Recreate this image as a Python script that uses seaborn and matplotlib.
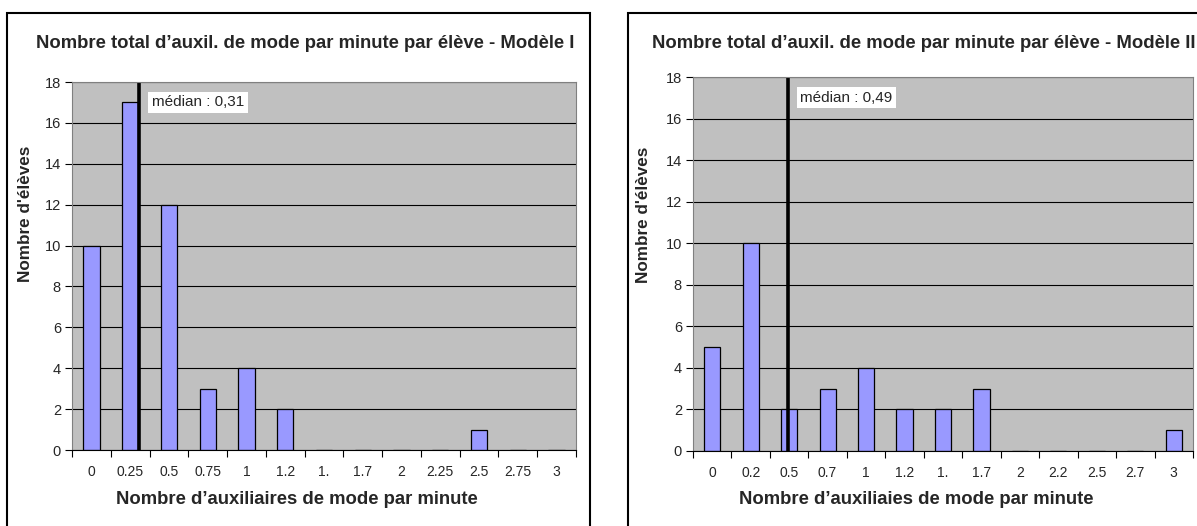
import numpy as np
import pandas as pd
import seaborn as sns
import matplotlib.pyplot as plt
from matplotlib.patches import Rectangle

# Données
cats_1 = ['0', '0.25', '0.5', '0.75', '1', '1.2', '1.', '1.7', '2', '2.25', '2.5', '2.75', '3']
eleves_1 = [10, 17, 12, 3, 4, 2, 0, 0, 0, 0, 1, 0, 0]
mediane_1 = 0.31

cats_2 = ['0', '0.2', '0.5', '0.7', '1', '1.2', '1.', '1.7', '2', '2.2', '2.5', '2.7', '3']
eleves_2 = [5, 10, 2, 3, 4, 2, 2, 3, 0, 0, 0, 0, 1]
mediane_2 = 0.49

# valeurs numériques des classes (pour placer la médiane)
classes = [0, 0.25, 0.5, 0.75, 1, 1.25, 1.5, 1.75, 2, 2.25, 2.5, 2.75, 3]

titre_1 = 'Nombre total d’auxil. de mode par minute par élève - Modèle I'
titre_2 = 'Nombre total d’auxil. de mode par minute par élève - Modèle II'
xlabel_1 = 'Nombre d’auxiliaires de mode par minute'
xlabel_2 = 'Nombre d’auxiliaies de mode par minute'
ylabel = "Nombre d'élèves"

sns.set_style('white')
plt.rcParams['font.family'] = ['Liberation Sans', 'DejaVu Sans']

fig = plt.figure(figsize=(11.97, 5.26), dpi=100)

# cadres des deux graphiques
fig.patches.append(Rectangle((7 / 1197, -0.05), 583 / 1197, 1.05 - 13 / 526, transform=fig.transFigure,
                             fill=False, edgecolor='black', linewidth=1.5))
fig.patches.append(Rectangle((628 / 1197, -0.05), 0.6, 1.05 - 13 / 526, transform=fig.transFigure,
                             fill=False, edgecolor='black', linewidth=1.5))

ax1 = fig.add_axes([72 / 1197, 76 / 526, 504 / 1197, 368 / 526])
ax2 = fig.add_axes([693 / 1197, 75 / 526, 500 / 1197, 374 / 526])


def panneau(ax, cats, vals, med, xlabel, label_x):
    df = pd.DataFrame({'classe': cats, 'eleves': vals})
    ax.set_facecolor('#C0C0C0')
    ax.set_axisbelow(True)
    sns.barplot(data=df, x='classe', y='eleves', order=cats, color='#9999FF',
                edgecolor='black', linewidth=0.9, width=0.42, saturation=1, ax=ax)
    ax.set_ylim(0, 18)
    ax.set_xlim(-0.5, len(cats) - 0.5)
    ax.set_yticks(range(0, 19, 2))
    ax.grid(axis='y', color='black', linewidth=0.8)
    ax.grid(axis='x', visible=False)

    # graduations entre les classes, étiquettes au centre
    ax.set_xticks(np.arange(-0.5, len(cats), 1.0))
    ax.set_xticklabels([])
    ax.set_xticks(range(len(cats)), minor=True)
    ax.set_xticklabels(cats, minor=True, fontsize=10)
    ax.tick_params(axis='x', which='major', direction='out', length=5, width=0.8, color='black', bottom=True)
    ax.tick_params(axis='x', which='minor', length=0, pad=11)
    ax.tick_params(axis='y', direction='out', length=5, width=0.8, color='black', left=True, labelsize=10.5, pad=3)

    for s in ['top', 'right', 'left']:
        ax.spines[s].set_color('#808080')
        ax.spines[s].set_linewidth(0.8)
    ax.spines['bottom'].set_color('black')
    ax.spines['bottom'].set_linewidth(0.8)

    ax.set_xlabel('')
    ax.set_ylabel('')

    # ligne de la médiane
    pos = np.interp(med, classes, range(len(classes)))
    ax.axvline(pos, color='black', linewidth=2.6)
    ax.annotate('médian : ' + str(med).replace('.', ','), xy=(pos, 17), xytext=(9, 0),
                textcoords='offset points', fontsize=11, va='center', ha='left',
                bbox=dict(facecolor='white', edgecolor='none', pad=2.5))

    fig.text(label_x, 26 / 526, xlabel, fontsize=13.3, fontweight='bold', ha='center', va='center')


panneau(ax1, cats_1, eleves_1, mediane_1, xlabel_1, 297 / 1197)
panneau(ax2, cats_2, eleves_2, mediane_2, xlabel_2, 916 / 1197)

fig.text(36 / 1197, 1 - 44 / 526, titre_1, fontsize=13.3, fontweight='bold', ha='left', va='center')
fig.text(652 / 1197, 1 - 44 / 526, titre_2, fontsize=13.3, fontweight='bold', ha='left', va='center')
fig.text(26 / 1197, 1 - 214 / 526, ylabel, fontsize=12.3, fontweight='bold', rotation=90, ha='center', va='center')
fig.text(644 / 1197, 1 - 215 / 526, ylabel, fontsize=12.3, fontweight='bold', rotation=90, ha='center', va='center')

plt.savefig('out.png', dpi=100)
